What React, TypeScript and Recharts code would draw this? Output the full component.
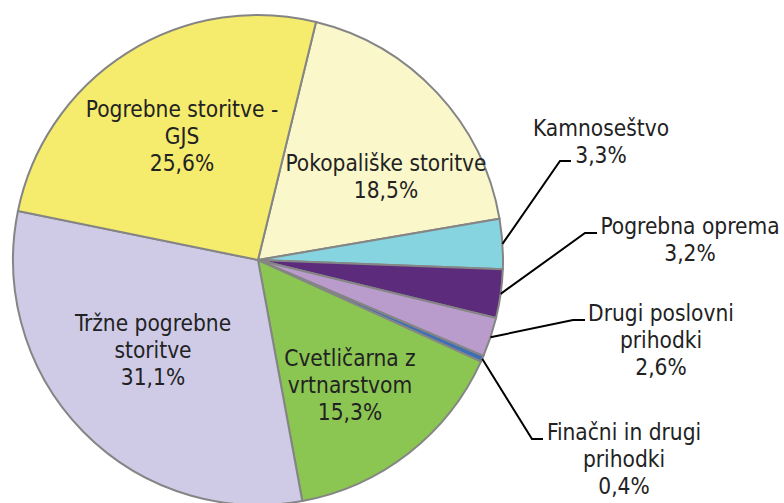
import React from 'react';
import { PieChart, Pie, Cell } from 'recharts';

const categories = [
  'Pokopališke storitve',
  'Kamnoseštvo',
  'Pogrebna oprema',
  'Drugi poslovni prihodki',
  'Finačni in drugi prihodki',
  'Cvetličarna z vrtnarstvom',
  'Tržne pogrebne storitve',
  'Pogrebne storitve - GJS',
];
const values = [18.5, 3.3, 3.2, 2.6, 0.4, 15.3, 31.1, 25.6];
const labelTexts = [
  ['Pokopališke storitve'],
  ['Kamnoseštvo'],
  ['Pogrebna oprema'],
  ['Drugi poslovni', 'prihodki'],
  ['Finačni in drugi', 'prihodki'],
  ['Cvetličarna z', 'vrtnarstvom'],
  ['Tržne pogrebne', 'storitve'],
  ['Pogrebne storitve -', 'GJS'],
];
const colors = ['#FAF8CB', '#87D4E1', '#5D2B7C', '#B99CCB', '#3E6FB6', '#8BC653', '#CFCBE7', '#F5EB6D'];

// label placement (offsets from pie centre); outside labels have a leader line elbow
const labelLayout = [
  { tx: 128, ty: -97 },
  { tx: 343, ty: -132, ex: 302, ey: -99, endX: 313 },
  { tx: 432, ty: -34, ex: 327, ey: -27, endX: 339 },
  { tx: 403, ty: 53, ex: 315, ey: 60, endX: 327 },
  { tx: 366, ty: 172, ex: 274, ey: 179, endX: 285 },
  { tx: 92, ty: 98 },
  { tx: -105, ty: 63 },
  { tx: -76, ty: -151 },
];

const data = categories.map((name, i) => ({ name, value: values[i] }));

const FONT = '"DejaVu Sans Condensed", "DejaVu Sans", Verdana, sans-serif';
const LINE_H = 27;

const renderLabel = (props: any) => {
  const { cx, cy, midAngle, outerRadius, index, value } = props;
  const lay = labelLayout[index];
  const lines = [...labelTexts[index], value.toFixed(1).replace('.', ',') + '%'];
  const RAD = Math.PI / 180;
  let leader = null;
  if (lay.ex !== undefined) {
    const sx = cx + outerRadius * Math.cos(-midAngle * RAD);
    const sy = cy + outerRadius * Math.sin(-midAngle * RAD);
    const exx = cx + lay.ex;
    const eyy = cy + lay.ey;
    leader = (
      <polyline
        points={`${sx},${sy} ${exx},${eyy} ${cx + lay.endX},${eyy}`}
        fill="none"
        stroke="#000"
        strokeWidth={2}
      />
    );
  }
  return (
    <g key={`lbl-${index}`}>
      {leader}
      {lines.map((t, j) => (
        <text
          key={j}
          x={cx + lay.tx}
          y={cy + lay.ty + j * LINE_H}
          textAnchor="middle"
          dominantBaseline="central"
          fontFamily={FONT}
          fontStretch="condensed"
          fontSize={22.5}
          fill="#222"
        >
          {t}
        </text>
      ))}
    </g>
  );
};

export default function App() {
  return (
    <div style={{ position: 'absolute', left: 0, top: 0, width: 784, height: 503, background: '#fff' }}>
      <PieChart width={784} height={503} margin={{ top: 0, right: 0, bottom: 0, left: 0 }}>
        <Pie
          data={data}
          dataKey="value"
          nameKey="name"
          cx={258}
          cy={260}
          outerRadius={245}
          startAngle={76.3}
          endAngle={-283.7}
          stroke="#858585"
          strokeWidth={2}
          label={renderLabel}
          labelLine={false}
          isAnimationActive={false}
        >
          {data.map((d, i) => (
            <Cell key={d.name} fill={colors[i]} />
          ))}
        </Pie>
      </PieChart>
    </div>
  );
}
